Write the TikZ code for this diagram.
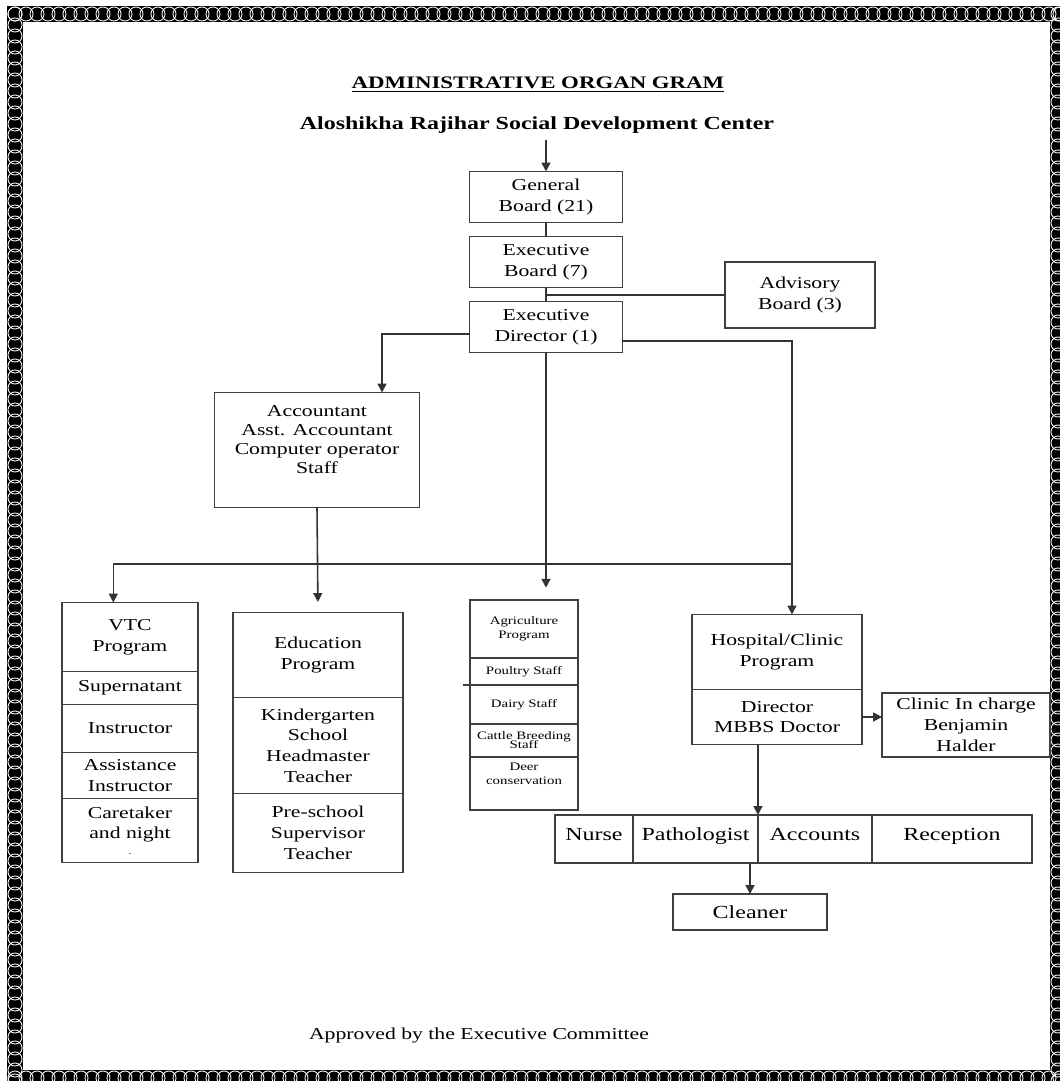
\documentclass[tikz,border=0pt]{standalone}
\usepackage{fontspec}
\setmainfont{Liberation Serif}[FakeStretch=1.3]
\usepackage{tikz}
\usetikzlibrary{positioning, arrows.meta}

\newcommand{\boxfont}{\fontsize{9.5}{11.8}\selectfont}
\newcommand{\agrfont}{\fontsize{6.5}{8.2}\selectfont}

\begin{document}
\begin{tikzpicture}[
    x=0.02cm, y=-0.02cm,
    box/.style={draw=black!75, line width=0.8pt, align=center, inner sep=1pt, outer sep=0pt, font=\boxfont},
    agrbox/.style={box, minimum width=2.16cm, font=\agrfont},
    staffbox/.style={box, font=\fontsize{10.5}{12}\selectfont, minimum height=0.96cm, text height=7.5pt, text depth=6pt},
    arr/.style={-{Triangle[length=5pt, width=5pt]}, line width=0.9pt, black!80},
    link/.style={line width=0.9pt, black!80}
]
    % Page and border
    \useasboundingbox (0,0) rectangle (1060,1081);
    \fill[white] (0,0) rectangle (1060,1081);
    \draw[line width=0.32cm] (15,14) rectangle (1058,1078);
    \foreach \x in {15,26,...,1060} {
        \draw[white, line width=0.5pt] (\x,14) circle[radius=4pt];
        \draw[white, line width=0.5pt] (\x,1078) circle[radius=4pt];
    }
    \foreach \y in {14,25,...,1081} {
        \draw[white, line width=0.5pt] (15,\y) circle[radius=4pt];
        \draw[white, line width=0.5pt] (1058,\y) circle[radius=4pt];
    }

    % Heading
    \node[font=\fontsize{10}{12}\bfseries\selectfont] (title) at (538,85) {\underline{ADMINISTRATIVE ORGAN GRAM}};
    \node[font=\fontsize{10.5}{12}\bfseries\selectfont] (org) at (537,125) {Aloshikha Rajihar Social Development Center};

    % Boards
    \node[box, minimum width=3.06cm, minimum height=1.02cm] (gb) at (546,197) {General\\Board (21)};
    \node[box, minimum width=3.06cm, minimum height=1.02cm] (eb) at (546,262) {Executive\\Board (7)};
    \node[box, minimum width=3.06cm, minimum height=1.02cm] (ed) at (546,327) {Executive\\Director (1)};
    \node[box, minimum width=3.0cm, minimum height=1.32cm] (adv) at (800,295) {Advisory\\Board (3)};

    % Accounts
    \node[box, minimum width=4.1cm, minimum height=2.3cm] (acc) at (317,450) {};
    \node[align=center, font=\fontsize{9.5}{10.8}\selectfont, anchor=north] (acctext) at ([yshift=-4pt]acc.north) {Accountant\\Asst. Accountant\\Computer operator\\Staff};

    % VTC program
    \node[box, minimum width=2.72cm, minimum height=1.38cm] (vtc1) at (130,637) {VTC\\Program};
    \node[box, minimum width=2.72cm, minimum height=0.66cm, below=0pt of vtc1] (vtc2) {Supernatant};
    \node[box, minimum width=2.72cm, minimum height=0.96cm, below=0pt of vtc2] (vtc3) {Instructor};
    \node[box, minimum width=2.72cm, minimum height=0.92cm, below=0pt of vtc3] (vtc4) {Assistance\\Instructor};
    \node[box, minimum width=2.72cm, minimum height=1.28cm, below=0pt of vtc4] (vtc5) {Caretaker\\and night\\[-3pt]{\tiny .}};

    % Education program
    \node[box, minimum width=3.4cm, minimum height=1.7cm] (edu1) at (318,655) {Education\\Program};
    \node[box, minimum width=3.4cm, minimum height=1.92cm, below=0pt of edu1] (edu2) {Kindergarten\\School\\Headmaster\\Teacher};
    \node[box, minimum width=3.4cm, minimum height=1.58cm, below=0pt of edu2] (edu3) {Pre-school\\Supervisor\\Teacher};

    % Agriculture program
    \node[agrbox, minimum height=1.16cm] (agr1) at (524,629) {Agriculture\\Program};
    \node[agrbox, minimum height=0.54cm, below=0pt of agr1] (agr2) {Poultry Staff};
    \node[agrbox, minimum height=0.78cm, below=0pt of agr2] (agr3) {Dairy Staff};
    \node[agrbox, minimum height=0.66cm, below=0pt of agr3] (agr4) {Cattle Breeding\\[-3pt]Staff};
    \node[agrbox, minimum height=1.06cm, below=0pt of agr4] (agr5) {Deer\\conservation\\[3pt]};
    \draw[black!75, line width=0.8pt] (agr2.south west) -- ++(-7,0);

    % Hospital program
    \node[box, minimum width=3.4cm, minimum height=1.5cm] (hos1) at (777,652) {Hospital/Clinic\\Program};
    \node[box, minimum width=3.4cm, minimum height=1.1cm, below=0pt of hos1] (hos2) {Director\\MBBS Doctor};
    \node[box, minimum width=3.36cm, minimum height=1.28cm] (clin) at (966,725) {Clinic In charge\\Benjamin\\Halder};

    % Hospital staff
    \node[staffbox, minimum width=1.56cm] (nurse) at (594,839) {Nurse};
    \node[staffbox, minimum width=2.5cm, right=0pt of nurse] (path) {Pathologist};
    \node[staffbox, minimum width=2.28cm, right=0pt of path] (acct) {Accounts};
    \node[staffbox, minimum width=3.2cm, right=0pt of acct] (recp) {Reception};
    \node[box, font=\fontsize{10.5}{12}\selectfont, minimum width=3.08cm, minimum height=0.72cm] (clean) at (750,912) {Cleaner};

    % Footer
    \node[font=\fontsize{9.5}{12}\selectfont] (appr) at (479,1035) {Approved by the Executive Committee};

    % Connectors
    \coordinate (bus) at (792,564);
    \draw[arr] (org.south -| gb.north) -- (gb.north);
    \draw[link] (gb.south) -- (eb.north);
    \draw[link] (eb.south) -- (ed.north);
    \draw[link] (adv.west) -- (adv.west -| eb.south);
    \draw[arr] ([yshift=-4pt]ed.west) -| ([xshift=37pt]acc.north);
    \draw[arr] ([yshift=-8pt]ed.east) -| ([xshift=8.5pt]hos1.north);
    \draw[arr, shorten >=7pt] (ed.south) -- (ed.south |- agr1.north);
    \draw[arr] (bus) -| ([xshift=-9.5pt]vtc1.north);
    \draw[arr, shorten >=6pt] (acc.south) -- (edu1.north);
    \draw[arr] (hos2.east) -- (hos2.east -| clin.west);
    \draw[arr] (acct.north west |- hos2.south) -- (acct.north west);
    \draw[arr] (clean.north |- acct.south) -- (clean.north);

\end{tikzpicture}
\end{document}
